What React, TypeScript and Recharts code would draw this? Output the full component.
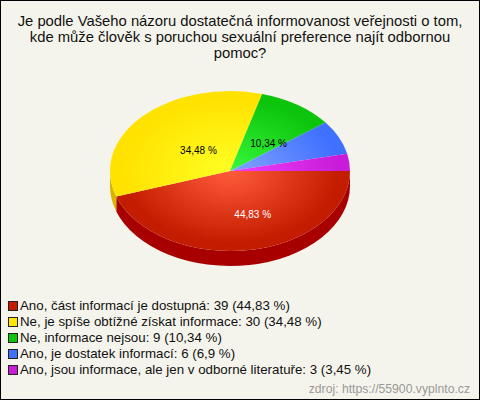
import React from 'react'
import { PieChart, Pie, Cell, Legend } from 'recharts'

const TITLE_LINES = [
  'Je podle Vašeho názoru dostatečná informovanost veřejnosti o tom,',
  'kde může člověk s poruchou sexuální preference najít odbornou',
  'pomoc?',
]
const CATEGORIES = [
  'Ano, část informací je dostupná',
  'Ne, je spíše obtížné získat informace',
  'Ne, informace nejsou',
  'Ano, je dostatek informací',
  'Ano, jsou informace, ale jen v odborné literatuře',
]
const COUNTS = [39, 30, 9, 6, 3]
const PERCENT_LABELS = ['44,83', '34,48', '10,34', '6,9', '3,45']

const INNER_COLORS = ['#ff5c3c', '#ffff24', '#38f83c', '#82a4ff', '#f040ff']
const OUTER_COLORS = ['#c41c00', '#ffe200', '#0cc40c', '#4070ff', '#c81cd8']
const SIDE_COLORS = ['#a80000', '#d8b400', '#0a9a0a', '#3050c0', '#a010b0']
const LEGEND_COLORS = ['#c41c00', '#ffe800', '#0cc40c', '#4070ff', '#c81cd8']

const data = CATEGORIES.map((name, i) => ({ name, value: COUNTS[i] }))

const BG = '#f5f4ec'
const FONT = '"Liberation Sans", Arial, sans-serif'
const SQUASH = 2 / 3 // pohled na koláč shora
const DEPTH = 15
const LABEL_SHIFT = [
  { dx: 13, dy: 4 },
  { dx: 12, dy: 7 },
  { dx: 5, dy: 6 },
]

const RAD = Math.PI / 180
const px = (cx: number, r: number, a: number) => cx + r * Math.cos(a * RAD)
const py = (cy: number, r: number, a: number) => cy - r * SQUASH * Math.sin(a * RAD)

// spodní vrstva: jen boční stěna, viditelná část spodní poloviny
function WallShape(props: any) {
  const { cx, cy, outerRadius: r, startAngle, endAngle, index } = props
  const from = Math.max(Math.min(startAngle, endAngle), -180)
  const to = Math.min(Math.max(startAngle, endAngle), 0)
  if (from >= to) return null
  const ry = r * SQUASH
  const d = [
    `M${px(cx, r, to)},${py(cy, r, to)}`,
    `A${r},${ry} 0 0 1 ${px(cx, r, from)},${py(cy, r, from)}`,
    `L${px(cx, r, from)},${py(cy, r, from) + DEPTH}`,
    `A${r},${ry} 0 0 0 ${px(cx, r, to)},${py(cy, r, to) + DEPTH}`,
    'Z',
  ].join(' ')
  return <path d={d} fill={SIDE_COLORS[index]} />
}

function TopShape(props: any) {
  const { cx, cy, outerRadius: r, startAngle, endAngle, index } = props
  const big = Math.abs(startAngle - endAngle) > 180 ? 1 : 0
  const d = [
    `M${cx},${cy}`,
    `L${px(cx, r, startAngle)},${py(cy, r, startAngle)}`,
    `A${r},${r * SQUASH} 0 ${big} 1 ${px(cx, r, endAngle)},${py(cy, r, endAngle)}`,
    'Z',
  ].join(' ')
  return <path d={d} fill={`url(#slice${index})`} />
}

function SliceLabel(props: any) {
  const { cx, cy, outerRadius: r, midAngle, index } = props
  if (index > 2) return null
  const shift = LABEL_SHIFT[index]
  return (
    <text
      x={px(cx, r * 0.5, midAngle) + shift.dx}
      y={py(cy, r * 0.5, midAngle) + shift.dy}
      textAnchor="middle"
      dominantBaseline="central"
      fontSize={10}
      fontFamily={FONT}
      fill={index === 0 ? '#ffffff' : '#000000'}
    >
      {PERCENT_LABELS[index]} %
    </text>
  )
}

function LegendList() {
  return (
    <div style={{ fontFamily: FONT, fontSize: 13.3, color: '#111', lineHeight: '16px', textAlign: 'left' }}>
      {CATEGORIES.map((name, i) => (
        <div key={name} style={{ display: 'flex', alignItems: 'center', height: 16, whiteSpace: 'nowrap' }}>
          <span
            style={{
              width: 8,
              height: 8,
              marginRight: 2,
              border: '1px solid #222',
              background: LEGEND_COLORS[i],
              flex: 'none',
            }}
          />
          {name}: {COUNTS[i]} ({PERCENT_LABELS[i]} %)
        </div>
      ))}
    </div>
  )
}

export default function App() {
  const cx = 230
  const cy = 171
  const r = 120
  return (
    <div
      style={{
        position: 'absolute',
        left: 0,
        top: 0,
        width: 478,
        height: 398,
        background: BG,
        border: '1px solid #000',
        overflow: 'hidden',
      }}
    >
      <div
        style={{
          position: 'absolute',
          left: 0,
          top: 12,
          width: 478,
          textAlign: 'center',
          fontFamily: FONT,
          fontSize: 14.8,
          lineHeight: '16px',
          color: '#111',
        }}
      >
        {TITLE_LINES.map((line) => (
          <div key={line}>{line}</div>
        ))}
      </div>
      <div style={{ position: 'absolute', left: -1, top: -1 }}>
        <PieChart width={480} height={400} margin={{ top: 0, right: 0, bottom: 0, left: 0 }}>
          <defs>
            {INNER_COLORS.map((c, i) => (
              <radialGradient
                key={c}
                id={`slice${i}`}
                gradientUnits="userSpaceOnUse"
                cx={cx}
                cy={cy}
                r={r}
                gradientTransform={`translate(0 ${cy * (1 - SQUASH)}) scale(1 ${SQUASH})`}
              >
                <stop offset="0" stopColor={c} />
                <stop offset="0.9" stopColor={OUTER_COLORS[i]} />
                <stop offset="1" stopColor={OUTER_COLORS[i]} />
              </radialGradient>
            ))}
          </defs>
          <Pie
            data={data}
            dataKey="value"
            nameKey="name"
            cx={cx}
            cy={cy}
            outerRadius={r}
            startAngle={0}
            endAngle={-360}
            stroke="none"
            legendType="none"
            shape={WallShape}
            isAnimationActive={false}
          />
          <Pie
            data={data}
            dataKey="value"
            nameKey="name"
            cx={cx}
            cy={cy}
            outerRadius={r}
            startAngle={0}
            endAngle={-360}
            stroke="none"
            shape={TopShape}
            label={SliceLabel}
            labelLine={false}
            isAnimationActive={false}
          >
            {data.map((entry, i) => (
              <Cell key={entry.name} fill={LEGEND_COLORS[i]} />
            ))}
          </Pie>
          <Legend
            content={<LegendList />}
            layout="horizontal"
            verticalAlign="bottom"
            wrapperStyle={{ left: 8, top: 298, bottom: 'auto', width: 460 }}
          />
        </PieChart>
      </div>
      <div
        style={{
          position: 'absolute',
          right: 9,
          top: 381,
          fontFamily: FONT,
          fontSize: 12.2,
          lineHeight: '14px',
          color: '#999',
          whiteSpace: 'nowrap',
        }}
      >
        zdroj: https://55900.vyplnto.cz
      </div>
    </div>
  )
}
